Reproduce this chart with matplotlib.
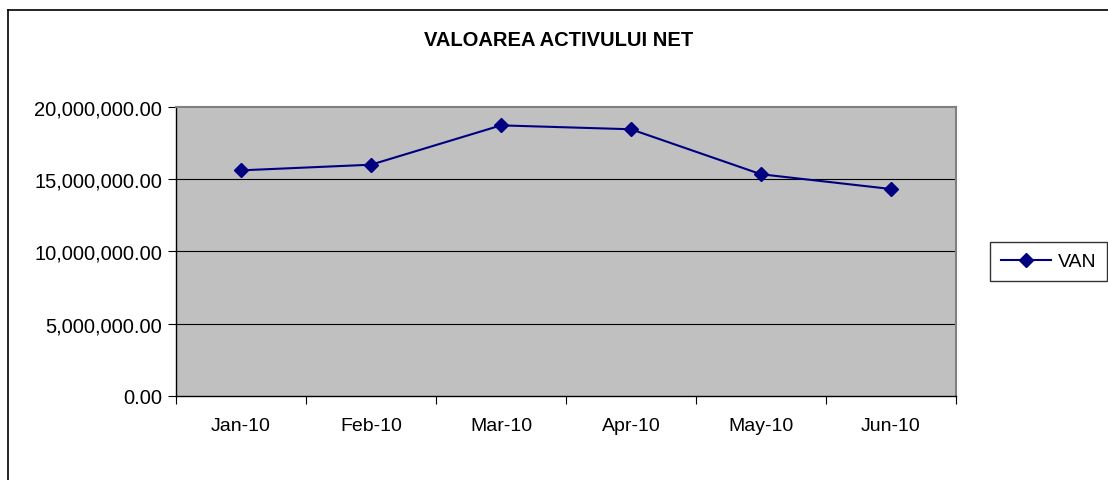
import numpy as np
import matplotlib
matplotlib.use("Agg")
import matplotlib.pyplot as plt
from matplotlib.lines import Line2D
from matplotlib.ticker import FuncFormatter, FixedLocator

plt.rcParams['font.family'] = ['Liberation Sans', 'DejaVu Sans']

months = ['Jan-10', 'Feb-10', 'Mar-10', 'Apr-10', 'May-10', 'Jun-10']
van = [15600000, 15990000, 18710000, 18440000, 15330000, 14310000]
yticks = [0, 5000000, 10000000, 15000000, 20000000]

W, H = 1108, 481
fig = plt.figure(figsize=(W / 100, H / 100), dpi=100)
ax = fig.add_axes([176 / W, 1 - 397 / H, 780 / W, 289.3 / H])
ax.set_facecolor('#c0c0c0')

x = np.arange(len(months))
ax.plot(x, van, color='#000080', lw=1.5, marker='D', ms=7, label='VAN', zorder=3)

ax.set_xlim(-0.5, len(months) - 0.5)
ax.set_ylim(0, 20000000)
ax.set_yticks(yticks)
ax.yaxis.set_major_formatter(FuncFormatter(lambda v, p: f'{v:,.2f}'))
for v in yticks[1:-1]:
    ax.axhline(v, color='#000000', lw=0.8, zorder=1)

ax.set_xticks(x)
ax.set_xticklabels(months)
ax.xaxis.set_minor_locator(FixedLocator(np.arange(-0.5, len(months), 1.0)))
ax.tick_params(axis='x', which='major', length=0, pad=15, labelsize=14)
ax.tick_params(axis='x', which='minor', length=6, width=0.8, color='#000000')
ax.tick_params(axis='y', length=6, width=0.8, pad=4, labelsize=14.5)

for s in ['top', 'right']:
    ax.spines[s].set_color('#808080')
    ax.spines[s].set_linewidth(1.5)
for s in ['left', 'bottom']:
    ax.spines[s].set_color('#000000')
    ax.spines[s].set_linewidth(1.0)

fig.text(559 / W, 1 - 41 / H, 'VALOAREA ACTIVULUI NET', ha='center', va='center',
         fontsize=14.5, fontweight='bold')

leg = fig.legend(loc='upper left', bbox_to_anchor=(990 / W, 1 - 243 / H),
                 frameon=True, fancybox=False, fontsize=14, handlelength=2.6,
                 borderpad=0.55, handletextpad=0.35, borderaxespad=0)
leg.get_frame().set_edgecolor('#000000')
leg.get_frame().set_linewidth(1.0)

# chart area frame (top and left visible)
fig.add_artist(Line2D([8 / W, 1.0], [1 - 11 / H, 1 - 11 / H], color='black', lw=1.2))
fig.add_artist(Line2D([8 / W, 8 / W], [0, 1 - 11 / H], color='black', lw=1.2))

fig.savefig('out.png', dpi=100)
